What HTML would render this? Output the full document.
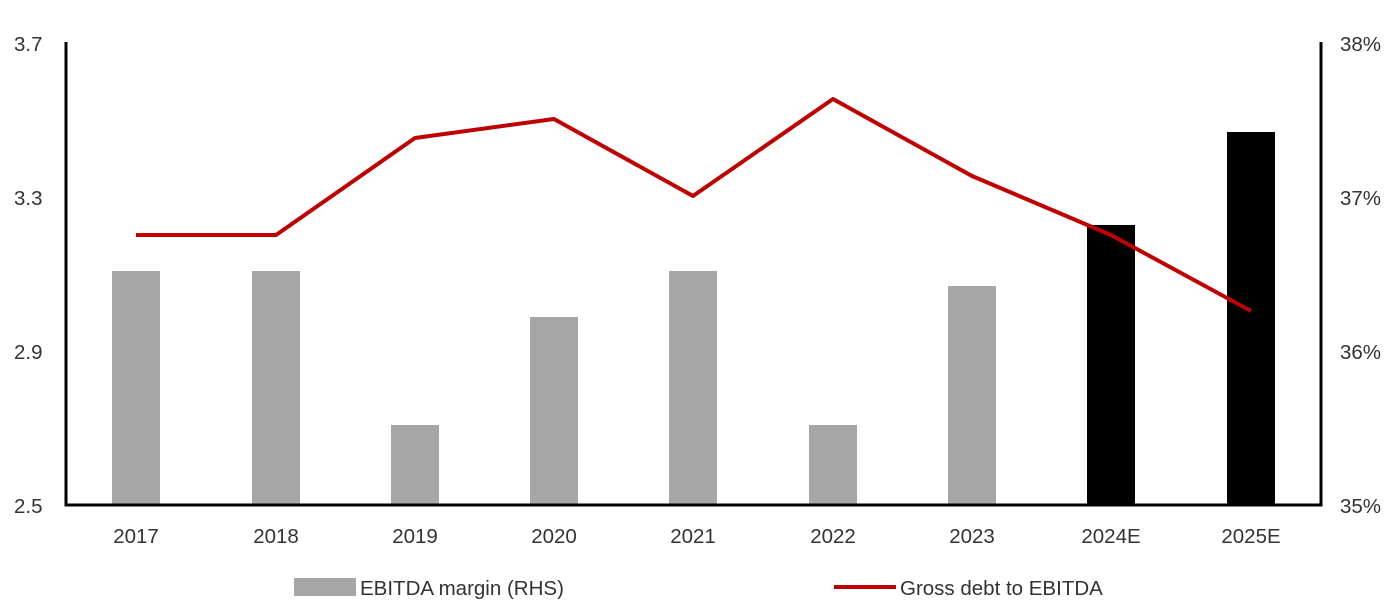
<!DOCTYPE html>
<html><head><style>body{margin:0;background:#fff}svg{display:block}text{font-family:"Liberation Sans",sans-serif;fill:#333;font-size:20.5px}</style></head><body>
<svg width="1396" height="609" viewBox="0 0 1396 609">
<g fill="#a6a6a6">
<rect x="112" y="271" width="48" height="234"/>
<rect x="252" y="271" width="48" height="234"/>
<rect x="391" y="425" width="48" height="80"/>
<rect x="530" y="317" width="48" height="188"/>
<rect x="669" y="271" width="48" height="234"/>
<rect x="809" y="425" width="48" height="80"/>
<rect x="948" y="286" width="48" height="219"/>
</g>
<rect x="1087" y="225" width="48" height="280" fill="#000"/>
<rect x="1227" y="132" width="48" height="373" fill="#000"/>
<path d="M66 42V505H1321V42" fill="none" stroke="#000" stroke-width="3"/>
<polyline points="136,235 276,235 415,138 554,119 693,196 833,99 972,176 1111,235 1251,311" fill="none" stroke="#c00000" stroke-width="4" stroke-linejoin="round"/>
<g text-anchor="start">
<text x="14" y="51">3.7</text><text x="14" y="205">3.3</text><text x="14" y="359">2.9</text><text x="14" y="513">2.5</text>
<text x="1340" y="51">38%</text><text x="1340" y="205">37%</text><text x="1340" y="359">36%</text><text x="1340" y="513">35%</text>
</g>
<g text-anchor="middle">
<text x="136" y="543">2017</text><text x="276" y="543">2018</text><text x="415" y="543">2019</text><text x="554" y="543">2020</text><text x="693" y="543">2021</text><text x="833" y="543">2022</text><text x="972" y="543">2023</text><text x="1111" y="543">2024E</text><text x="1251" y="543">2025E</text>
</g>
<rect x="294" y="578" width="62" height="18" fill="#a6a6a6"/>
<text x="360" y="595">EBITDA margin (RHS)</text>
<line x1="834" y1="587" x2="896" y2="587" stroke="#c00000" stroke-width="4"/>
<text x="900" y="595">Gross debt to EBITDA</text>
</svg>
</body></html>
